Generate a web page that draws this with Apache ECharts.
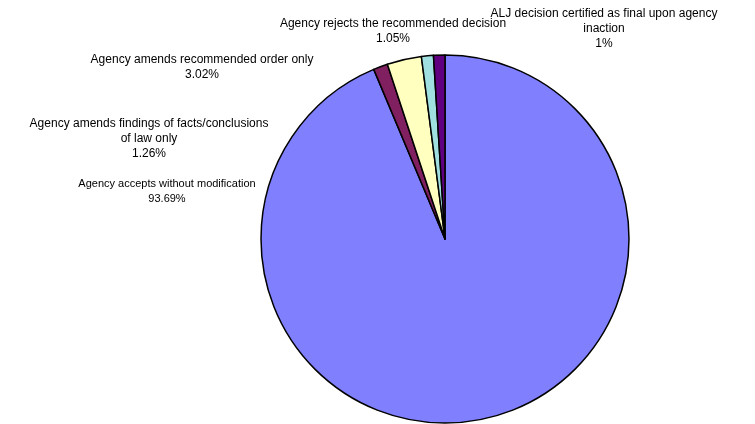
<!DOCTYPE html>
<html>
<head>
<meta charset="utf-8">
<script src="https://cdn.jsdelivr.net/npm/echarts@6/dist/echarts.min.js"></script>
<style>
  html, body { margin: 0; padding: 0; background: #fff; }
  #chart { width: 755px; height: 424px; }
</style>
</head>
<body>
<div id="chart"></div>
<script>
// Outcome categories, in clockwise order from 12 o'clock
const categories = [
  'Agency accepts without modification',
  'Agency amends findings of facts/conclusions\nof law only',
  'Agency amends recommended order only',
  'Agency rejects the recommended decision',
  'ALJ decision certified as final upon agency\ninaction'
];
// Share of decisions, percent
const shares = [93.69, 1.26, 3.02, 1.05, 1];
const valueLabels = ['93.69%', '1.26%', '3.02%', '1.05%', '1%'];

const sliceColors = ['#8080FF', '#802060', '#FFFFC0', '#A0E0E0', '#600080'];

// Label anchor points (centre of each label block) and text sizes
const labelAnchors = [
  [167, 191],
  [149, 139],
  [202, 67],
  [393, 31],
  [604, 29]
];
const labelFontSizes = [11, 12, 12, 12, 12];

const chart = echarts.init(document.getElementById('chart'), null, { renderer: 'canvas' });

chart.setOption({
  animation: false,
  backgroundColor: '#ffffff',
  series: [{
    type: 'pie',
    center: [445, 239],
    radius: 184,
    startAngle: 90,
    clockwise: true,
    avoidLabelOverlap: false,
    data: categories.map((name, i) => ({
      name: name,
      value: shares[i],
      itemStyle: { color: sliceColors[i] },
      label: { fontSize: labelFontSizes[i] }
    })),
    itemStyle: { borderColor: '#000000', borderWidth: 1.5 },
    emphasis: { disabled: true },
    label: {
      show: true,
      position: 'outside',
      color: '#000000',
      fontFamily: 'Liberation Sans, Arial, sans-serif',
      fontSize: 11,
      lineHeight: 15,
      align: 'center',
      formatter: p => p.name + '\n' + valueLabels[p.dataIndex]
    },
    labelLine: { show: false },
    labelLayout: p => ({
      x: labelAnchors[p.dataIndex][0],
      y: labelAnchors[p.dataIndex][1],
      align: 'center',
      verticalAlign: 'middle'
    })
  }]
});
</script>
</body>
</html>
